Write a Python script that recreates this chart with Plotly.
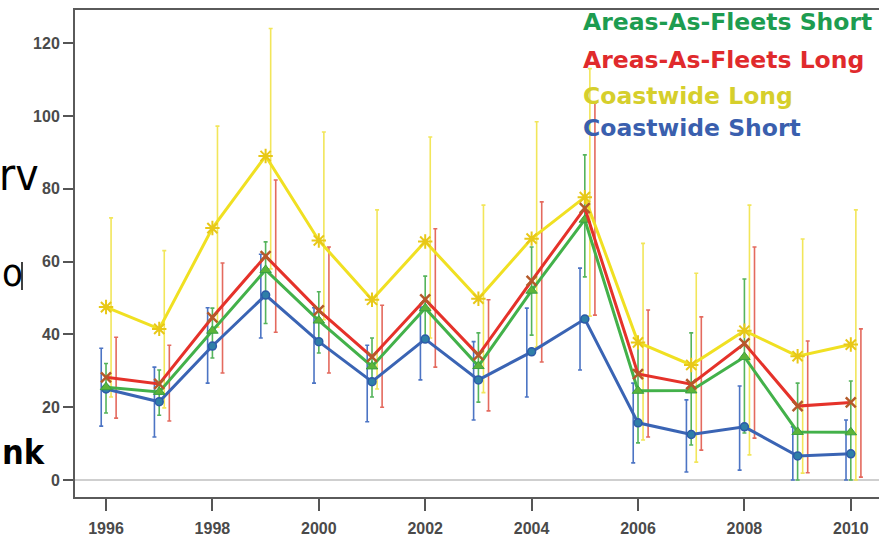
import plotly.graph_objects as go

years = list(range(1996, 2011))

# Coastwide Short (blue)
cs_val = [25.0, 21.5, 36.8, 50.8, 38.0, 27.0, 38.7, 27.5, 35.2, 44.2, 15.7, 12.5, 14.6, 6.6, 7.2]
cs_hi  = [36.2, 31.0, 47.3, 62.0, 47.3, 37.0, 47.5, 38.0, 47.2, 58.2, 26.6, 22.0, 25.8, 14.6, 16.5]
cs_lo  = [14.8, 11.8, 26.6, 39.0, 26.6, 16.0, 27.5, 16.5, 22.8, 30.2, 4.7, 2.2, 2.7, 0.0, 0.0]

# Areas-As-Fleets Short (green)
afs_val = [25.5, 24.2, 41.0, 57.7, 43.8, 31.2, 47.2, 31.3, 52.0, 71.5, 24.5, 24.6, 33.8, 13.2, 13.1]
afs_hi  = [32.0, 30.2, 47.2, 65.4, 51.7, 39.0, 56.0, 40.4, 64.0, 89.3, 38.0, 40.4, 55.2, 26.6, 27.2]
afs_lo  = [18.4, 17.8, 33.5, 43.0, 34.9, 22.8, 39.3, 21.4, 39.8, 55.8, 10.2, 9.6, 12.9, 0.0, 0.0]

# Coastwide Long (yellow)
cl_val = [47.5, 41.5, 69.2, 89.0, 65.8, 49.5, 65.5, 49.8, 66.3, 77.7, 37.8, 31.6, 41.0, 34.0, 37.2]
cl_hi  = [72.0, 63.0, 97.2, 124.0, 95.6, 74.2, 94.2, 75.5, 98.4, 113.0, 65.0, 56.8, 75.5, 66.2, 74.2]
cl_lo  = [22.8, 19.8, 42.0, 58.0, 44.0, 25.0, 39.0, 24.0, 36.5, 45.0, 11.0, 4.9, 6.9, 1.9, 0.0]

# Areas-As-Fleets Long (red)
afl_val = [28.2, 26.4, 44.7, 61.5, 46.6, 33.8, 49.6, 34.3, 54.7, 74.7, 29.1, 26.3, 37.5, 20.3, 21.3]
afl_hi  = [39.2, 37.0, 59.6, 82.4, 64.0, 48.0, 69.0, 49.5, 76.4, 103.6, 46.7, 44.8, 64.0, 38.2, 41.5]
afl_lo  = [17.0, 16.2, 29.4, 40.6, 29.4, 20.0, 31.0, 19.0, 32.4, 45.3, 11.8, 8.2, 11.5, 2.0, 0.8]

legend_names = ["Areas-As-Fleets Short", "Areas-As-Fleets Long", "Coastwide Long", "Coastwide Short"]
x_ticks = [1996, 1998, 2000, 2002, 2004, 2006, 2008, 2010]
y_ticks = [0, 20, 40, 60, 80, 100, 120]
side_texts = ["rv", "o", "nk"]

series = {
    "Coastwide Short": dict(val=cs_val, hi=cs_hi, lo=cs_lo, line="#3a64b4", bar="#4c74c4",
                            text="#3a5fae", off=-0.09,
                            marker=dict(symbol="circle", size=8, color="#2f7fa8",
                                        line=dict(color="#2c5aa8", width=1.5))),
    "Areas-As-Fleets Short": dict(val=afs_val, hi=afs_hi, lo=afs_lo, line="#43b14a", bar="#55b45c",
                                  text="#1d9c50", off=0.0,
                                  marker=dict(symbol="triangle-up", size=10, color="#5cb43a",
                                              line=dict(color="#3aa040", width=1))),
    "Coastwide Long": dict(val=cl_val, hi=cl_hi, lo=cl_lo, line="#f0e022", bar="#f2e65a",
                           text="#d6cf2c", off=0.095,
                           marker=dict(symbol="asterisk-open", size=12, color="#e8c818",
                                       line=dict(color="#e8c818", width=2))),
    "Areas-As-Fleets Long": dict(val=afl_val, hi=afl_hi, lo=afl_lo, line="#e5322a", bar="#e46a5e",
                                 text="#e02a2c", off=0.19,
                                 marker=dict(symbol="x-thin-open", size=10, color="#b45a2a",
                                             line=dict(color="#b45a2a", width=2.5))),
}

fig = go.Figure()

# error bars (offset slightly in x per series)
for name in ["Coastwide Short", "Areas-As-Fleets Short", "Coastwide Long", "Areas-As-Fleets Long"]:
    s = series[name]
    fig.add_trace(go.Scatter(
        x=[y + s["off"] for y in years], y=s["val"], mode="markers",
        marker=dict(size=1, opacity=0), showlegend=False, hoverinfo="skip",
        error_y=dict(type="data", symmetric=False,
                     array=[h - v for h, v in zip(s["hi"], s["val"])],
                     arrayminus=[v - l for v, l in zip(s["val"], s["lo"])],
                     color=s["bar"], thickness=1.6, width=2)))

# lines with markers
for name in ["Coastwide Long", "Coastwide Short", "Areas-As-Fleets Short", "Areas-As-Fleets Long"]:
    s = series[name]
    fig.add_trace(go.Scatter(
        x=years, y=s["val"], mode="lines+markers", name=name, showlegend=False,
        line=dict(color=s["line"], width=3), marker=s["marker"]))

# legend as coloured text
L, R, T, B = 75, 879, 10, 497
W, H = R - L, B - T
def px(x):
    return (x - L) / W
def py(y):
    return (B - y) / H

ann = []
for i, name in enumerate(legend_names):
    ann.append(dict(x=px(581), y=py([22, 60, 96, 128][i]), xref="paper", yref="paper",
                    text=name, showarrow=False, xanchor="left", yanchor="middle",
                    font=dict(family="DejaVu Sans", size=23.5, color=series[name]["text"], weight="bold")))

# slide text fragments on the left
narrow = "Liberation Sans Narrow, DejaVu Sans Condensed, Liberation Sans"
ann.append(dict(x=px(-3), y=py(174), xref="paper", yref="paper", text=side_texts[0], showarrow=False,
                xanchor="left", yanchor="middle",
                font=dict(family=narrow, size=44, color="#000000")))
ann.append(dict(x=px(0), y=py(273), xref="paper", yref="paper", text=side_texts[1], showarrow=False,
                xanchor="left", yanchor="middle",
                font=dict(family=narrow, size=38, color="#000000")))
ann.append(dict(x=px(0), y=py(452), xref="paper", yref="paper", text=side_texts[2], showarrow=False,
                xanchor="left", yanchor="middle",
                font=dict(family=narrow, size=34, color="#000000", weight="bold")))

fig.update_layout(
    width=879, height=540,
    margin=dict(l=L, r=0, t=T, b=540 - B),
    paper_bgcolor="white", plot_bgcolor="white",
    annotations=ann,
    shapes=[dict(type="line", xref="paper", yref="paper", x0=px(22), x1=px(22),
                 y0=py(262), y1=py(290), line=dict(color="#000000", width=1.5))],
    xaxis=dict(range=[1995.417, 2010.53], tickvals=x_ticks, ticktext=[str(t) for t in x_ticks],
               showgrid=False, zeroline=False, showline=True, mirror=True,
               linecolor="#5a5a5a", linewidth=2, ticks="outside", ticklen=12, tickwidth=1.5,
               tickcolor="#555555", ticklabelstandoff=4,
               tickfont=dict(family="Liberation Sans", size=16, color="#4a4a4a", weight="bold")),
    yaxis=dict(range=[-4.67, 129.1], tickvals=y_ticks, showgrid=False,
               zeroline=True, zerolinecolor="#cfcfcf", zerolinewidth=1.5,
               showline=True, mirror=False, linecolor="#5a5a5a", linewidth=2,
               ticks="outside", ticklen=10, tickwidth=1.5, tickcolor="#555555",
               tickfont=dict(family="Liberation Sans", size=16, color="#4a4a4a", weight="bold")),
)

fig.write_html("out.html", config={"displayModeBar": False},
               post_script="document.body.style.margin='0px';document.body.style.overflow='hidden';")
